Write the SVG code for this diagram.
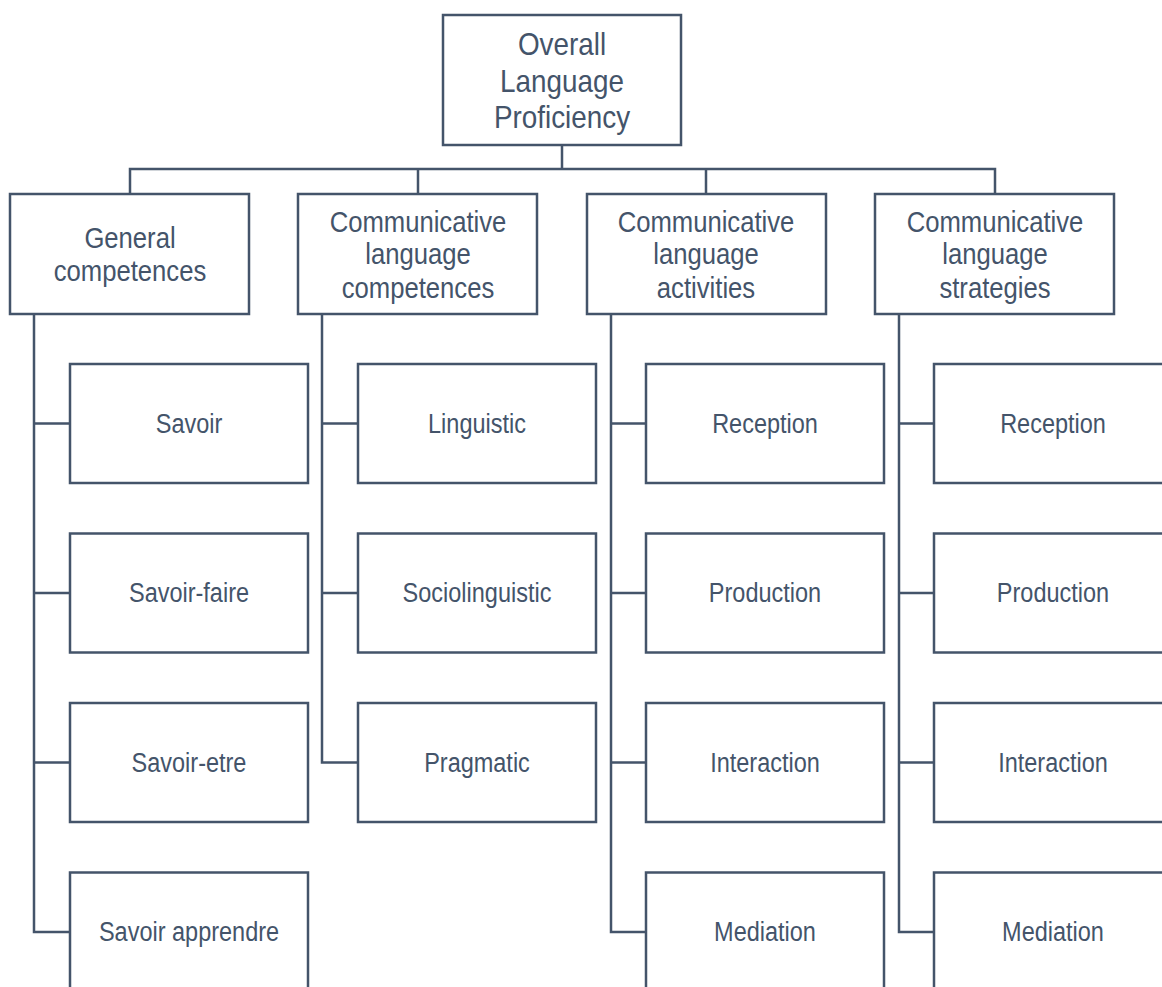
<svg xmlns="http://www.w3.org/2000/svg" width="1162" height="987" viewBox="0 0 1162 987">
<style>
rect.n{fill:#fff;stroke:#44546A;stroke-width:2.5}
.c path{fill:none;stroke:#44546A;stroke-width:2.5}
text{font-family:"Liberation Sans",Arial,sans-serif;fill:#44546A;text-anchor:middle}
.t{font-size:32px}
.h{font-size:29.5px}
.s{font-size:27px}
</style>
<rect width="1162" height="987" fill="#fff"/>
<g class="c">
<path d="M562 145V169M130 194V169H995V194M418 169V194M706 169V194"/>
<path d="M34 314V932H70M34 423.5H70M34 593H70M34 762.5H70"/>
<path d="M322 314V762.5H358M322 423.5H358M322 593H358"/>
<path d="M611 314V932H646M611 423.5H646M611 593H646M611 762.5H646"/>
<path d="M899 314V932H934M899 423.5H934M899 593H934M899 762.5H934"/>
</g>
<g id="root"><rect class="n" x="443" y="15" width="238" height="130"/><g transform="translate(562 0) scale(0.87 1)"><text class="t" x="0" y="55">Overall</text><text class="t" x="0" y="91.7">Language</text><text class="t" x="0" y="128.3">Proficiency</text></g></g>
<g id="gen"><rect class="n" x="10" y="194" width="239" height="120"/><g transform="translate(130 0) scale(0.87 1)"><text class="h" x="0" y="248.3">General</text><text class="h" x="0" y="280.7">competences</text></g></g>
<g id="clc"><rect class="n" x="298" y="194" width="239" height="120"/><g transform="translate(418 0) scale(0.87 1)"><text class="h" x="0" y="231.7">Communicative</text><text class="h" x="0" y="264.5">language</text><text class="h" x="0" y="297.7">competences</text></g></g>
<g id="cla"><rect class="n" x="587" y="194" width="239" height="120"/><g transform="translate(706 0) scale(0.87 1)"><text class="h" x="0" y="231.7">Communicative</text><text class="h" x="0" y="264.5">language</text><text class="h" x="0" y="297.7">activities</text></g></g>
<g id="cls"><rect class="n" x="875" y="194" width="239" height="120"/><g transform="translate(995 0) scale(0.87 1)"><text class="h" x="0" y="231.7">Communicative</text><text class="h" x="0" y="264.5">language</text><text class="h" x="0" y="297.7">strategies</text></g></g>
<g id="g1"><rect class="n" x="70" y="364" width="238" height="119"/><text class="s" transform="translate(189 432.5) scale(0.87 1)">Savoir</text></g>
<g id="g2"><rect class="n" x="70" y="533.5" width="238" height="119"/><text class="s" transform="translate(189 602) scale(0.87 1)">Savoir-faire</text></g>
<g id="g3"><rect class="n" x="70" y="703" width="238" height="119"/><text class="s" transform="translate(189 771.5) scale(0.87 1)">Savoir-etre</text></g>
<g id="g4"><rect class="n" x="70" y="872.5" width="238" height="119"/><text class="s" transform="translate(189 941) scale(0.87 1)">Savoir apprendre</text></g>
<g id="c1"><rect class="n" x="358" y="364" width="238" height="119"/><text class="s" transform="translate(477 432.5) scale(0.87 1)">Linguistic</text></g>
<g id="c2"><rect class="n" x="358" y="533.5" width="238" height="119"/><text class="s" transform="translate(477 602) scale(0.87 1)">Sociolinguistic</text></g>
<g id="c3"><rect class="n" x="358" y="703" width="238" height="119"/><text class="s" transform="translate(477 771.5) scale(0.87 1)">Pragmatic</text></g>
<g id="a1"><rect class="n" x="646" y="364" width="238" height="119"/><text class="s" transform="translate(765 432.5) scale(0.87 1)">Reception</text></g>
<g id="a2"><rect class="n" x="646" y="533.5" width="238" height="119"/><text class="s" transform="translate(765 602) scale(0.87 1)">Production</text></g>
<g id="a3"><rect class="n" x="646" y="703" width="238" height="119"/><text class="s" transform="translate(765 771.5) scale(0.87 1)">Interaction</text></g>
<g id="a4"><rect class="n" x="646" y="872.5" width="238" height="119"/><text class="s" transform="translate(765 941) scale(0.87 1)">Mediation</text></g>
<g id="s1"><rect class="n" x="934" y="364" width="238" height="119"/><text class="s" transform="translate(1053 432.5) scale(0.87 1)">Reception</text></g>
<g id="s2"><rect class="n" x="934" y="533.5" width="238" height="119"/><text class="s" transform="translate(1053 602) scale(0.87 1)">Production</text></g>
<g id="s3"><rect class="n" x="934" y="703" width="238" height="119"/><text class="s" transform="translate(1053 771.5) scale(0.87 1)">Interaction</text></g>
<g id="s4"><rect class="n" x="934" y="872.5" width="238" height="119"/><text class="s" transform="translate(1053 941) scale(0.87 1)">Mediation</text></g>
</svg>
